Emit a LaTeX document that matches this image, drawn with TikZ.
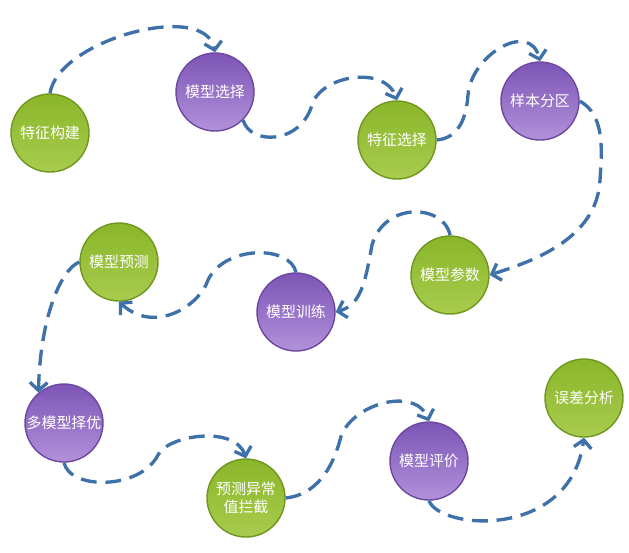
\documentclass[tikz,border=0pt]{standalone}
\usepackage{fontspec}
\newfontfamily\cjk{Noto Sans CJK SC}
\usepackage{xcolor}
\usepackage{tikz}
\usetikzlibrary{arrows.meta}
\definecolor{ballgreen}{RGB}{138, 182, 42}
\definecolor{ballgreenlt}{RGB}{168, 204, 78}
\definecolor{ballgreenrim}{RGB}{112, 150, 30}
\definecolor{ballpurple}{RGB}{125, 85, 182}
\definecolor{ballpurplelt}{RGB}{178, 145, 218}
\definecolor{ballpurplerim}{RGB}{108, 72, 160}
\definecolor{flowblue}{RGB}{62, 112, 170}

\begin{document}
\begin{tikzpicture}[x=0.02cm, y=-0.02cm, font=\cjk\fontsize{8.5}{10.5}\selectfont,
  >={Straight Barb[length=4.5pt, width=10pt]},
  gb/.style={circle, minimum size=1.56cm, inner sep=0pt, align=center, text=white,
             top color=ballgreen, bottom color=ballgreenlt, draw=ballgreenrim, line width=0.8pt},
  pb/.style={circle, minimum size=1.56cm, inner sep=0pt, align=center, text=white,
             top color=ballpurple, bottom color=ballpurplelt, draw=ballpurplerim, line width=0.8pt},
  flow/.style={->, flowblue, line width=1.9pt, dash pattern=on 9pt off 5pt}]
  \useasboundingbox (0,0) rectangle (629,552);
  \node[gb] (a) at (50,133)  {特征构建};
  \node[pb] (b) at (215,92)  {模型选择};
  \node[gb] (c) at (397,140) {特征选择};
  \node[pb] (d) at (540,101) {样本分区};
  \node[gb] (e) at (450,275) {模型参数};
  \node[pb] (f) at (296,312) {模型训练};
  \node[gb] (g) at (119,262) {模型预测};
  \node[pb] (h) at (64,423)  {多模型择优};
  \node[gb] (i) at (246,498) {预测异常\\值拦截};
  \node[pb] (j) at (429,461) {模型评价};
  \node[gb] (k) at (584,398) {误差分析};
  \draw[flow] (a.north) .. controls (58,40) and (205,0) .. (b.north);
  \draw[flow] (b.-45) .. controls (250,145) and (300,145) .. (312,105)
              .. controls (321,75) and (385,65) .. (c.north);
  \draw[flow] (c.east) .. controls (458,138) and (466,120) .. (468,95)
              .. controls (471,55) and (530,20) .. (d.north);
  \draw[flow] (d.east) .. controls (605,115) and (602,150) .. (600,180)
              .. controls (597,240) and (530,262) .. (e.east);
  \draw[flow] (e.north) .. controls (445,205) and (385,200) .. (372,245)
              .. controls (365,285) and (360,305) .. (f.east);
  \draw[flow] (f.north) .. controls (290,245) and (225,245) .. (208,280)
              .. controls (200,305) and (155,335) .. (g.south);
  \draw[flow] (g.west) .. controls (60,270) and (40,320) .. (h.130);
  \draw[flow] (h.south) .. controls (70,490) and (140,490) .. (158,455)
              .. controls (168,435) and (235,425) .. (i.north);
  \draw[flow] (i.east) .. controls (315,495) and (332,470) .. (340,440)
              .. controls (348,405) and (415,385) .. (j.north);
  \draw[flow] (j.south) .. controls (440,530) and (570,540) .. (k.south);
\end{tikzpicture}
\end{document}
